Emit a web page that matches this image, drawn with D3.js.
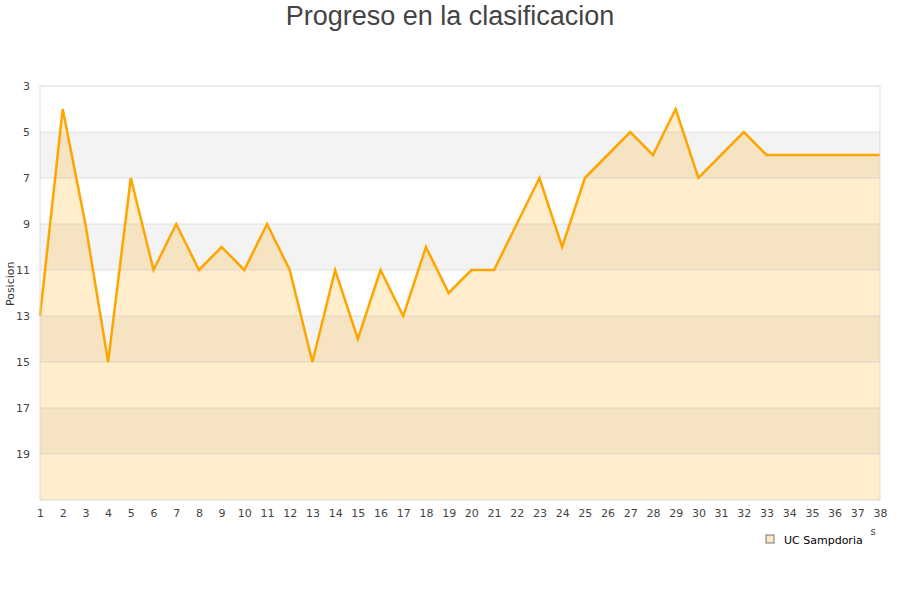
<!DOCTYPE html>
<html>
<head>
<meta charset="utf-8">
<script src="https://cdn.jsdelivr.net/npm/d3@7"></script>
<style>
    body { margin: 0; background: #fff; }
</style>
</head>
<body>
<div id="chart"></div>
<script>
// jornadas y posiciones
let jornadas = d3.range(1, 39);
let posiciones = [13, 4, 9, 15, 7, 11, 9, 11, 10, 11, 9, 11, 15, 11, 14, 11, 13, 10, 12, 11,
    11, 9, 7, 10, 7, 6, 5, 6, 4, 7, 6, 5, 6, 6, 6, 6, 6, 6];
let yTicks = [3, 5, 7, 9, 11, 13, 15, 17, 19];
let bandas = [[5, 7], [9, 11], [13, 15], [17, 19]];
let equipo = "UC Sampdoria";

let data = jornadas.map((j, i) => ({ j: j, p: posiciones[i] }));

let margin = { top: 86, right: 20, bottom: 100, left: 40 };
let width = 900 - margin.left - margin.right,
    height = 600 - margin.top - margin.bottom;

let svg = d3.select("#chart").append("svg")
    .attr("width", 900)
    .attr("height", 600);

let g = svg.append("g")
    .attr("transform", "translate(" + margin.left + "," + margin.top + ")");

let x = d3.scaleLinear().domain([1, 38]).range([0, width]);
let y = d3.scaleLinear().domain([3, 21]).range([0, height]);

// bandas grises
g.selectAll(".banda").data(bandas).enter().append("rect")
    .attr("x", 0)
    .attr("width", width)
    .attr("y", d => y(d[0]))
    .attr("height", d => y(d[1]) - y(d[0]))
    .attr("fill", "#f3f3f3");

// area
let area = d3.area()
    .x(d => x(d.j))
    .y0(height)
    .y1(d => y(d.p));

g.append("path")
    .datum(data)
    .attr("d", area)
    .attr("fill", "rgba(255,165,0,0.2)");

// grid
g.selectAll(".grid").data(yTicks.slice(1)).enter().append("line")
    .attr("x1", 0).attr("x2", width)
    .attr("y1", d => y(d)).attr("y2", d => y(d))
    .attr("stroke", "rgba(200,200,200,0.5)")
    .attr("stroke-width", 1);

// linea
let line = d3.line()
    .x(d => x(d.j))
    .y(d => y(d.p));

g.append("path")
    .datum(data)
    .attr("d", line)
    .attr("fill", "none")
    .attr("stroke", "#ffa500")
    .attr("stroke-width", 2.5);

// borde
g.append("rect")
    .attr("x", 0).attr("y", 0)
    .attr("width", width).attr("height", height)
    .attr("fill", "none")
    .attr("stroke", "#d9d9d9");

// ejes
let xAxis = d3.axisBottom(x).tickValues(jornadas).tickFormat(d3.format("d")).tickSize(0).tickPadding(9);
let yAxis = d3.axisLeft(y).tickValues(yTicks).tickSize(0).tickPadding(10);

let gx = g.append("g")
    .attr("transform", "translate(0," + height + ")")
    .call(xAxis);
let gy = g.append("g").call(yAxis);

[gx, gy].forEach(a => {
    a.select(".domain").remove();
    a.selectAll("text")
        .attr("fill", "#444")
        .style("font-family", "DejaVu Sans")
        .style("font-size", "11px");
});

// titulos
svg.append("text")
    .attr("x", 450).attr("y", 25)
    .attr("text-anchor", "middle")
    .style("font-family", "Liberation Sans")
    .style("font-size", "27px")
    .attr("fill", "#444")
    .text("Progreso en la clasificacion");

svg.append("text")
    .attr("transform", "translate(14," + (margin.top + y(11.6)) + ") rotate(-90)")
    .attr("text-anchor", "middle")
    .style("font-family", "DejaVu Sans")
    .style("font-size", "11px")
    .attr("fill", "#333")
    .text("Posicion");

svg.append("text")
    .attr("x", 873).attr("y", 535)
    .attr("text-anchor", "middle")
    .style("font-family", "DejaVu Sans")
    .style("font-size", "10px")
    .attr("fill", "#444")
    .text("s");

// leyenda
let leg = svg.append("g").attr("transform", "translate(766,535)");
leg.append("rect")
    .attr("width", 8).attr("height", 8)
    .attr("fill", "rgba(255,165,0,0.25)")
    .attr("stroke", "#777")
    .attr("stroke-width", 1);
leg.append("text")
    .attr("x", 18).attr("y", 8.5)
    .style("font-family", "DejaVu Sans")
    .style("font-size", "11px")
    .attr("fill", "#000")
    .text(equipo);
</script>
</body>
</html>
